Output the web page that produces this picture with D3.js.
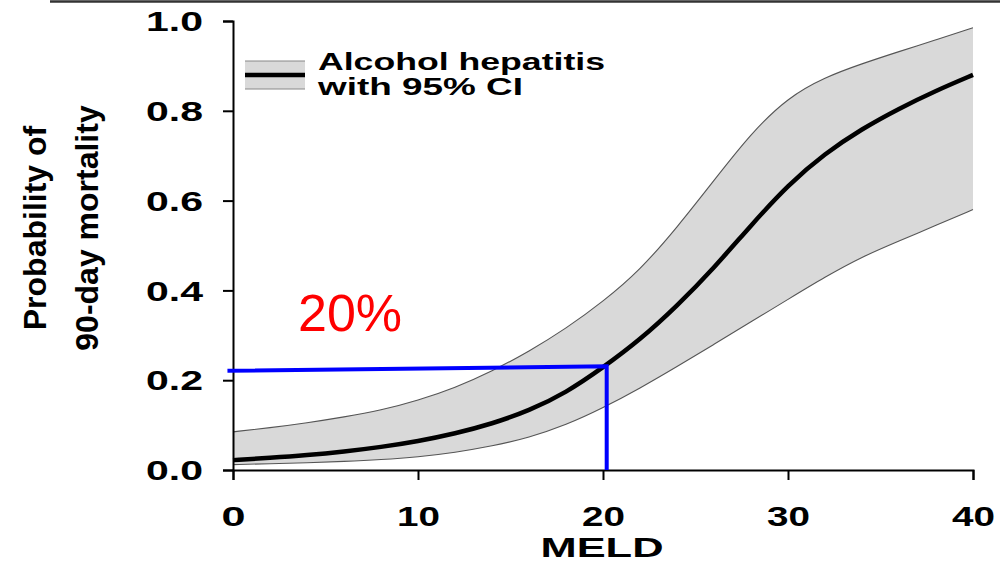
<!DOCTYPE html>
<html>
<head>
<meta charset="utf-8">
<script src="https://cdn.jsdelivr.net/npm/d3@7"></script>
<style>
  body { margin: 0; background: #fff; }
  svg { display: block; font-family: 'Liberation Sans', Arial, sans-serif; }
  .tick text { font-weight: bold; fill: #000; }
  .label { font-weight: bold; fill: #000; }
</style>
</head>
<body>
<svg width="1000" height="563"></svg>
<script>
// values (MELD score -> probability)
const meld      = [0, 2, 4, 6, 8, 10, 12, 14, 16, 18, 20, 22, 24, 26, 28, 30, 32, 34, 36, 38, 40]
const mortality = [0.022, 0.027, 0.033, 0.041, 0.051, 0.064, 0.081, 0.103, 0.132, 0.172, 0.228, 0.29, 0.365, 0.45, 0.545, 0.635, 0.705, 0.76, 0.805, 0.845, 0.88]
const ciLower   = [0.012, 0.014, 0.016, 0.019, 0.023, 0.029, 0.039, 0.053, 0.072, 0.1, 0.138, 0.182, 0.23, 0.28, 0.33, 0.38, 0.43, 0.475, 0.51, 0.545, 0.58]
const ciUpper   = [0.085, 0.094, 0.105, 0.118, 0.133, 0.155, 0.183, 0.22, 0.264, 0.315, 0.375, 0.445, 0.54, 0.645, 0.75, 0.83, 0.875, 0.905, 0.932, 0.958, 0.985]

const xTicks = [0, 10, 20, 30, 40]
const yTicks = [0, 0.2, 0.4, 0.6, 0.8, 1.0]

// blue guide drawn at MELD 20
const guideMeld = [-0.3, 20.2, 20.2]
const guideProb = [0.221, 0.231, 0]

const svg = d3.select('svg')
const width = +svg.attr('width')
const height = +svg.attr('height')

const render = () => {
    const margin = {top: 21, right: 27, bottom: 93, left: 233}

    const xScale = d3.scaleLinear()
        .domain([0, 40])
        .range([margin.left, width - margin.right])

    const yScale = d3.scaleLinear()
        .domain([0, 1])
        .range([height - margin.bottom, margin.top])

    const data = meld.map((m, i) => ({m, p: mortality[i], lo: ciLower[i], hi: ciUpper[i]}))

    // dark rule along the very top of the picture
    svg.append('line')
        .attr('x1', 50).attr('x2', width)
        .attr('y1', 1.5).attr('y2', 1.5)
        .attr('stroke', '#333').attr('stroke-width', 2.5)

    // confidence band
    const band = d3.area()
        .x(d => xScale(d.m))
        .y0(d => yScale(d.lo))
        .y1(d => yScale(d.hi))
        .curve(d3.curveBasis)

    svg.append('path')
        .datum(data)
        .attr('d', band)
        .attr('fill', '#d9d9d9')

    const edge = key => d3.line()
        .x(d => xScale(d.m))
        .y(d => yScale(d[key]))
        .curve(d3.curveBasis)

    ;['lo', 'hi'].forEach(k => {
        svg.append('path')
            .datum(data)
            .attr('d', edge(k))
            .attr('fill', 'none')
            .attr('stroke', '#555')
            .attr('stroke-width', 1.1)
    })

    // fitted curve
    svg.append('path')
        .datum(data)
        .attr('d', edge('p'))
        .attr('fill', 'none')
        .attr('stroke', '#000')
        .attr('stroke-width', 4.5)

    // axes
    const xAxisG = svg.append('g')
        .attr('transform', `translate(0,${yScale(0)})`)
        .call(d3.axisBottom(xScale).tickValues(xTicks).tickSize(10).tickFormat(d3.format('d')))
    xAxisG.selectAll('path, line').attr('stroke', '#000').attr('stroke-width', 2)
    xAxisG.selectAll('text')
        .attr('y', 56).attr('dy', null)
        .attr('font-size', 28)
        .attr('lengthAdjust', 'spacingAndGlyphs')
        .attr('textLength', d => d === 0 ? 24 : 43)

    const yAxisG = svg.append('g')
        .attr('transform', `translate(${xScale(0)},0)`)
        .call(d3.axisLeft(yScale).tickValues(yTicks).tickSize(10).tickFormat(d3.format('.1f')))
    yAxisG.selectAll('path, line').attr('stroke', '#000').attr('stroke-width', 2)
    yAxisG.selectAll('text')
        .attr('x', -30).attr('dy', '0.36em')
        .attr('font-size', 27)
        .attr('lengthAdjust', 'spacingAndGlyphs')
        .attr('textLength', 57)

    // blue guide to the 20% reading
    svg.append('path')
        .datum(guideMeld.map((m, i) => [m, guideProb[i]]))
        .attr('d', d3.line().x(d => xScale(d[0])).y(d => yScale(d[1])))
        .attr('fill', 'none')
        .attr('stroke', '#0000ff')
        .attr('stroke-width', 4)

    svg.append('text')
        .attr('x', 298).attr('y', 331)
        .attr('font-size', 52)
        .attr('fill', '#ff0000')
        .text('20%')

    // axis titles
    svg.append('text')
        .attr('class', 'label')
        .attr('x', 602).attr('y', 557)
        .attr('text-anchor', 'middle')
        .attr('font-size', 28)
        .attr('lengthAdjust', 'spacingAndGlyphs')
        .attr('textLength', 123)
        .text('MELD')

    const yTitle = svg.append('text')
        .attr('class', 'label')
        .attr('transform', 'translate(0,228) rotate(-90)')
        .attr('text-anchor', 'middle')
        .attr('font-size', 32)
    yTitle.append('tspan').attr('x', 0).attr('y', 46).text('Probability of')
    yTitle.append('tspan').attr('x', 0).attr('y', 98).text('90-day mortality')

    // legend
    const legend = svg.append('g')
    legend.append('rect')
        .attr('x', 245).attr('y', 61)
        .attr('width', 60).attr('height', 28)
        .attr('fill', '#d9d9d9')
    ;[61, 89].forEach(y => {
        legend.append('line')
            .attr('x1', 245).attr('x2', 305)
            .attr('y1', y).attr('y2', y)
            .attr('stroke', '#888').attr('stroke-width', 1)
    })
    legend.append('line')
        .attr('x1', 245).attr('x2', 305)
        .attr('y1', 75).attr('y2', 75)
        .attr('stroke', '#000').attr('stroke-width', 4.5)

    legend.append('text')
        .attr('class', 'label')
        .attr('x', 318).attr('y', 70)
        .attr('font-size', 23)
        .attr('lengthAdjust', 'spacingAndGlyphs')
        .attr('textLength', 287)
        .text('Alcohol hepatitis')
    legend.append('text')
        .attr('class', 'label')
        .attr('x', 318).attr('y', 95)
        .attr('font-size', 23)
        .attr('lengthAdjust', 'spacingAndGlyphs')
        .attr('textLength', 205)
        .text('with 95% CI')
}

render()
</script>
</body>
</html>
